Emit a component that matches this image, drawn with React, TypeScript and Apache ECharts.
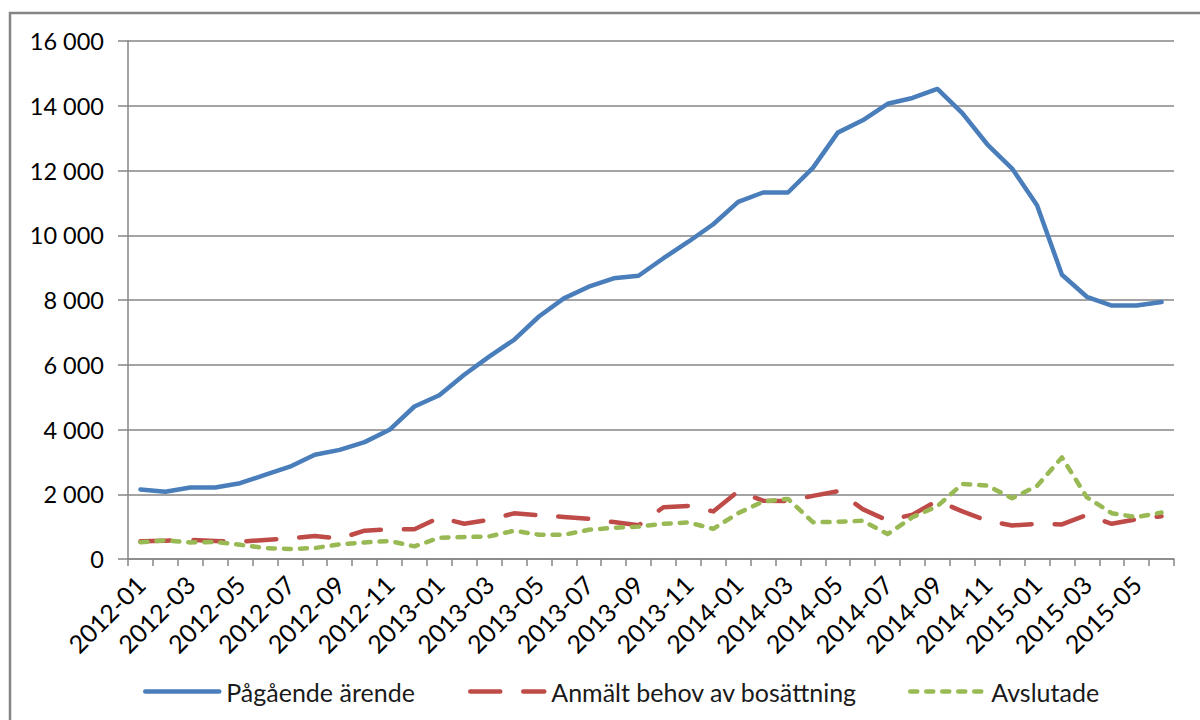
import React, { useEffect, useRef } from "react";
import * as echarts from "echarts";

const months: string[] = [
  "2012-01","2012-02","2012-03","2012-04","2012-05","2012-06","2012-07","2012-08","2012-09","2012-10","2012-11","2012-12",
  "2013-01","2013-02","2013-03","2013-04","2013-05","2013-06","2013-07","2013-08","2013-09","2013-10","2013-11","2013-12",
  "2014-01","2014-02","2014-03","2014-04","2014-05","2014-06","2014-07","2014-08","2014-09","2014-10","2014-11","2014-12",
  "2015-01","2015-02","2015-03","2015-04","2015-05","2015-06",
];

const pagaende: number[] = [
  2150, 2080, 2210, 2210, 2340, 2600, 2850, 3220, 3370, 3610, 3990, 4710,
  5060, 5690, 6250, 6770, 7490, 8050, 8410, 8670, 8750, 9290, 9800, 10340,
  11030, 11320, 11320, 12080, 13170, 13550, 14060, 14240, 14520, 13770, 12810, 12060,
  10930, 8780, 8100, 7830, 7830, 7940,
];

const anmalt: number[] = [
  545, 565, 590, 555, 530, 590, 635, 710, 636, 875, 915, 920,
  1280, 1090, 1210, 1410, 1350, 1300, 1240, 1140, 1040, 1600, 1640, 1470,
  2090, 1800, 1790, 1950, 2090, 1540, 1190, 1370, 1800, 1470, 1180, 1036,
  1087, 1067, 1364, 1087, 1231, 1323,
];

const avslutade: number[] = [
  515, 575, 513, 523, 441, 338, 308, 338, 451, 513, 554, 390,
  656, 677, 697, 872, 749, 749, 902, 964, 1000, 1087, 1128, 933,
  1415, 1774, 1856, 1138, 1149, 1180, 769, 1292, 1630, 2318, 2266, 1877,
  2256, 3138, 1908, 1415, 1292, 1436,
];

const seriesNames: string[] = ["Pågående ärende", "Anmält behov av bosättning", "Avslutade"];
const yTicks: number[] = [0, 2000, 4000, 6000, 8000, 10000, 12000, 14000, 16000];

const FONT = "Lato";

function fmt(v: number): string {
  return String(v).replace(/\B(?=(\d{3})+(?!\d))/g, " ");
}

export default function App() {
  const ref = useRef<HTMLDivElement>(null);
  useEffect(() => {
    if (!ref.current) return;
    const chart = echarts.init(ref.current, undefined, { renderer: "svg" });
    const legendBase = {
      top: 674,
      itemWidth: 74,
      itemHeight: 14,
      itemGap: 6,
      textStyle: { fontFamily: FONT, fontSize: 25, color: "#1a1a1a", padding: [0, 0, 0, 2] },
      itemStyle: { opacity: 0 },
      lineStyle: { width: 4.5, cap: "round" },
    };
    chart.setOption({
      animation: false,
      backgroundColor: "#ffffff",
      textStyle: { fontFamily: FONT },
      graphic: [
        {
          type: "rect",
          shape: { x: 10, y: 13, width: 1220, height: 740 },
          style: { fill: "none", stroke: "#858585", lineWidth: 2.5 },
          silent: true,
        },
      ],
      grid: { left: 128, right: 26, top: 41, bottom: 161 },
      legend: [
        { ...legendBase, data: [seriesNames[0]], left: 138 },
        { ...legendBase, data: [seriesNames[1]], left: 463 },
        { ...legendBase, data: [seriesNames[2]], left: 903 },
      ],
      xAxis: {
        type: "category",
        data: months,
        boundaryGap: true,
        axisLine: { show: true, lineStyle: { color: "#868686", width: 1.5 } },
        axisTick: { show: true, interval: 0, length: 7, lineStyle: { color: "#868686", width: 1.5 } },
        axisLabel: {
          interval: 1,
          rotate: 45,
          margin: 21,
          fontFamily: FONT,
          fontSize: 25,
          color: "#000000",
        },
        splitLine: { show: false },
      },
      yAxis: {
        type: "value",
        min: yTicks[0],
        max: yTicks[yTicks.length - 1],
        interval: 2000,
        axisLine: { show: true, lineStyle: { color: "#868686", width: 1.5 } },
        axisTick: { show: true, length: 10, lineStyle: { color: "#868686", width: 1.5 } },
        axisLabel: {
          margin: 24,
          fontFamily: FONT,
          fontSize: 23.5,
          color: "#000000",
          formatter: (v: number) => fmt(v),
        },
        splitLine: { show: true, lineStyle: { color: "#868686", width: 1.5 } },
      },
      series: [
        {
          name: seriesNames[0],
          type: "line",
          data: pagaende,
          symbol: "none",
          lineStyle: { color: "#4A7EBB", width: 4.5, cap: "round", join: "round" },
          itemStyle: { color: "#4A7EBB" },
        },
        {
          name: seriesNames[1],
          type: "line",
          data: anmalt,
          symbol: "none",
          lineStyle: { color: "#BE4B48", width: 4.5, type: [30, 23], cap: "round", join: "round" },
          itemStyle: { color: "#BE4B48" },
        },
        {
          name: seriesNames[2],
          type: "line",
          data: avslutade,
          symbol: "none",
          lineStyle: { color: "#98B954", width: 4.5, type: [7, 9], cap: "round", join: "round" },
          itemStyle: { color: "#98B954" },
        },
      ],
    });
    return () => chart.dispose();
  }, []);
  return (
    <div
      ref={ref}
      style={{ position: "fixed", left: 0, top: 0, width: 1200, height: 720, background: "#fff" }}
    />
  );
}
